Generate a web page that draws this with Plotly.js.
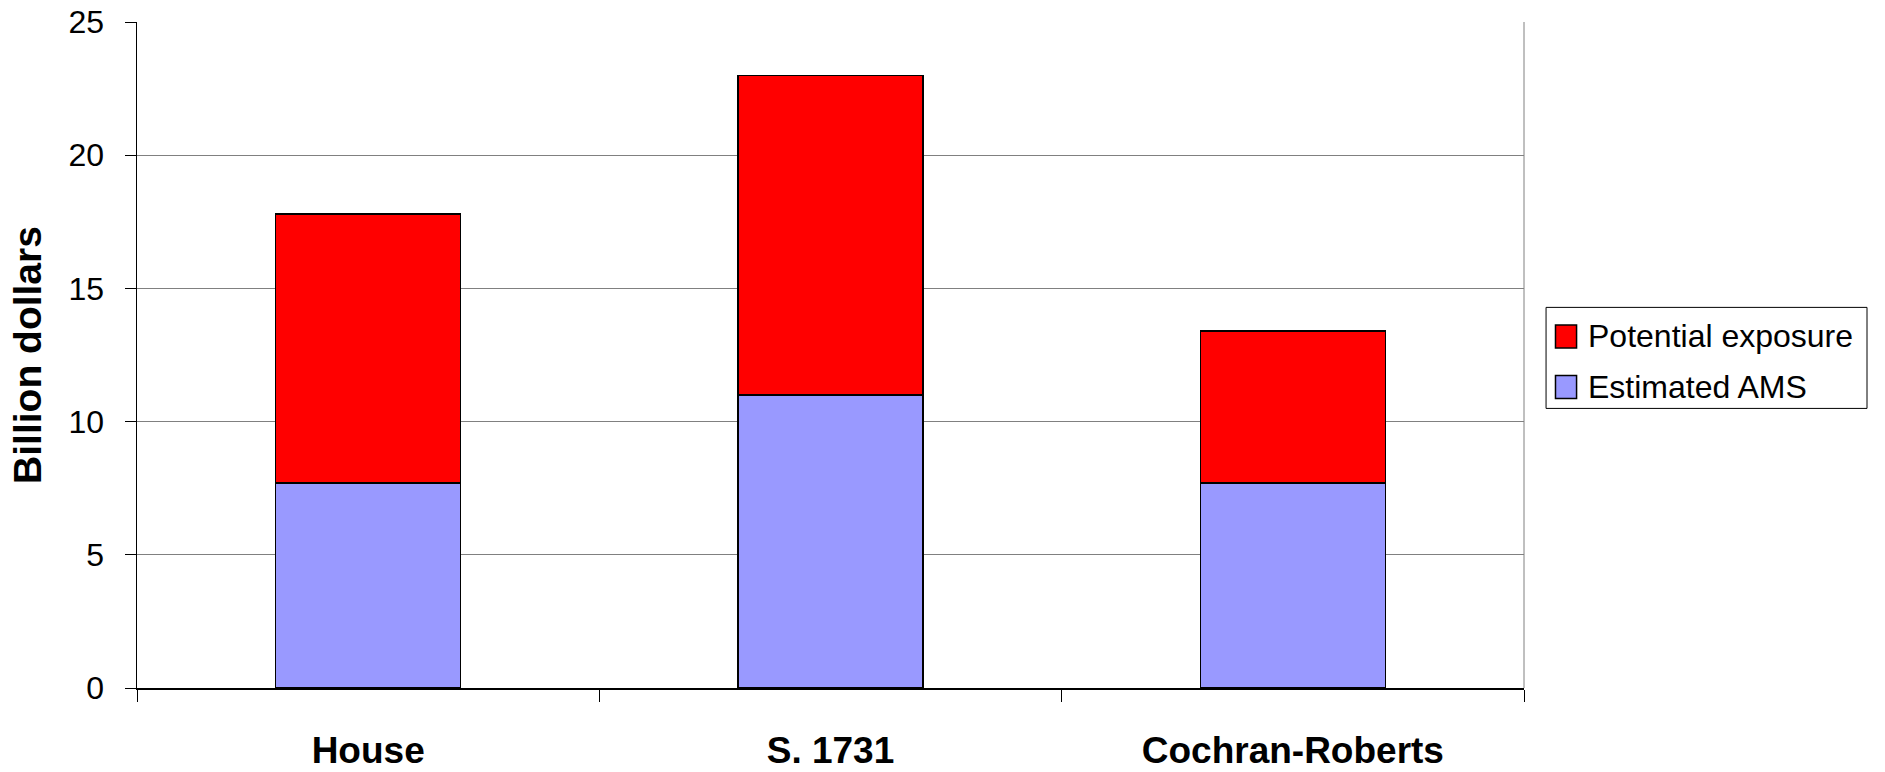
<!DOCTYPE html>
<html>
<head>
<meta charset="utf-8">
<script src="https://cdn.plot.ly/plotly-3.0.1.min.js"></script>
<style>html,body{margin:0;padding:0;background:#fff;}#chart{width:1885px;height:772px;}</style>
</head>
<body>
<div id="chart"></div>
<script>
const categories = ["House", "S. 1731", "Cochran-Roberts"];
const estimatedAMS = [7.7, 11.0, 7.7];
const potentialExposure = [10.1, 12.0, 5.7];
const seriesNames = ["Potential exposure", "Estimated AMS"];
const seriesColors = {"Potential exposure": "#FF0000", "Estimated AMS": "#9999FF"};
const yTicks = [0, 5, 10, 15, 20, 25];

const FONT = "Liberation Sans, Arial, sans-serif";

const traces = [
  {type: "bar", name: "Estimated AMS", x: categories, y: estimatedAMS,
   marker: {color: seriesColors["Estimated AMS"], line: {color: "#000", width: 1.5}}, showlegend: false},
  {type: "bar", name: "Potential exposure", x: categories, y: potentialExposure,
   marker: {color: seriesColors["Potential exposure"], line: {color: "#000", width: 1.5}}, showlegend: false}
];

// custom legend (box, swatches, labels) in paper coordinates
const legX0 = 1.0159, legX1 = 1.2473, legY0 = 0.4198, legY1 = 0.5715;
const rowY = [0.5278, 0.4520];
const shapes = [
  {type: "rect", xref: "paper", yref: "paper", x0: legX0, x1: legX1, y0: legY0, y1: legY1,
   line: {color: "#000", width: 1}, fillcolor: "#fff"},
  {type: "line", xref: "paper", yref: "paper", x0: 1, x1: 1, y0: 0, y1: 1,
   line: {color: "#808080", width: 1}}
];
const annotations = [];
seriesNames.forEach((nm, i) => {
  shapes.push({type: "rect", xref: "paper", yref: "paper",
    x0: 1.0227, x1: 1.0379, y0: rowY[i] - 0.0172, y1: rowY[i] + 0.0172,
    fillcolor: seriesColors[nm], line: {color: "#000", width: 1.5}});
  annotations.push({xref: "paper", yref: "paper", x: 1.0445, y: rowY[i],
    xanchor: "left", yanchor: "middle", text: nm, showarrow: false,
    font: {family: FONT, size: 32, color: "#000"}});
});

const layout = {
  width: 1885, height: 772,
  margin: {l: 137, r: 361, t: 22, b: 84},
  paper_bgcolor: "#fff", plot_bgcolor: "#fff",
  barmode: "stack", bargap: 0.6,
  showlegend: false,
  font: {family: FONT, color: "#000"},
  xaxis: {
    type: "category", showline: true, linecolor: "#000", linewidth: 1.5,
    ticks: "outside", tickson: "boundaries", ticklen: 12, tickcolor: "#000", tickwidth: 1,
    ticklabelstandoff: 29,
    tickfont: {family: FONT, size: 37, color: "#000", weight: "bold"},
    showgrid: false, zeroline: false, fixedrange: true
  },
  yaxis: {
    range: [0, 25], tickvals: yTicks, ticktext: yTicks.map(String),
    showline: true, linecolor: "#000", linewidth: 1.5,
    ticks: "outside", ticklen: 11, tickcolor: "#000", tickwidth: 1,
    ticklabelstandoff: 14,
    tickfont: {family: FONT, size: 32, color: "#000"},
    showgrid: true, gridcolor: "#808080", gridwidth: 1, zeroline: false,
    title: {text: "Billion dollars", standoff: 15, font: {family: FONT, size: 39, color: "#000", weight: "bold"}},
    fixedrange: true
  },
  shapes: shapes,
  annotations: annotations
};

Plotly.newPlot("chart", traces, layout, {displayModeBar: false, staticPlot: true});
</script>
</body>
</html>
